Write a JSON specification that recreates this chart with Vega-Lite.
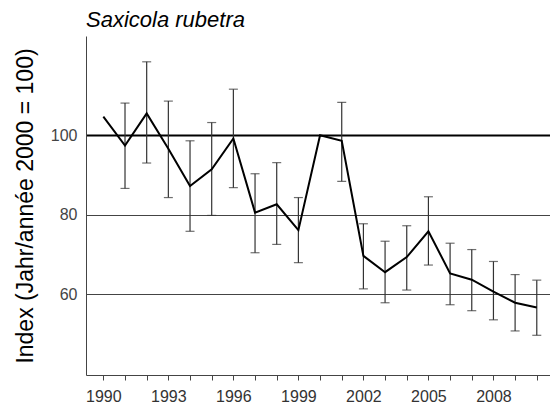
{
  "$schema": "https://vega.github.io/schema/vega-lite/v6.json",
  "autosize": {"type": "none"},
  "width": 464,
  "height": 339,
  "padding": {"left": 86, "top": 36, "right": 0, "bottom": 31},
  "background": "white",
  "config": {
    "font": "Liberation Sans",
    "view": {"stroke": null}
  },
  "title": {
    "text": "Saxicola rubetra",
    "anchor": "start",
    "frame": "group",
    "font": "Liberation Sans",
    "fontSize": 22,
    "fontStyle": "italic",
    "fontWeight": "normal",
    "color": "#000000",
    "baseline": "bottom",
    "offset": -18
  },
  "data": {
    "values": [
      {"year": 1990, "index": 104.7, "lo": null, "hi": null},
      {"year": 1991, "index": 97.4, "lo": 86.6, "hi": 108.1},
      {"year": 1992, "index": 105.5, "lo": 93.0, "hi": 118.5},
      {"year": 1993, "index": 96.6, "lo": 84.3, "hi": 108.6},
      {"year": 1994, "index": 87.2, "lo": 75.8, "hi": 98.6},
      {"year": 1995, "index": 91.4, "lo": 79.8, "hi": 103.2},
      {"year": 1996, "index": 99.2, "lo": 86.8, "hi": 111.6},
      {"year": 1997, "index": 80.5, "lo": 70.4, "hi": 90.3},
      {"year": 1998, "index": 82.6, "lo": 72.5, "hi": 93.1},
      {"year": 1999, "index": 76.1, "lo": 67.9, "hi": 84.3},
      {"year": 2000, "index": 100.0, "lo": null, "hi": null},
      {"year": 2001, "index": 98.6, "lo": 88.4, "hi": 108.3},
      {"year": 2002, "index": 69.6, "lo": 61.3, "hi": 77.7},
      {"year": 2003, "index": 65.5, "lo": 57.8, "hi": 73.3},
      {"year": 2004, "index": 69.3, "lo": 61.0, "hi": 77.2},
      {"year": 2005, "index": 75.8, "lo": 67.3, "hi": 84.5},
      {"year": 2006, "index": 65.2, "lo": 57.3, "hi": 72.8},
      {"year": 2007, "index": 63.6, "lo": 55.8, "hi": 71.2},
      {"year": 2008, "index": 60.6, "lo": 53.5, "hi": 68.2},
      {"year": 2009, "index": 57.8, "lo": 50.7, "hi": 64.9},
      {"year": 2010, "index": 56.6, "lo": 49.6, "hi": 63.5}
    ]
  },
  "encoding": {
    "x": {
      "field": "year",
      "type": "quantitative",
      "scale": {"domain": [1989.2, 2010.61], "nice": false, "zero": false},
      "axis": {
        "title": null,
        "values": [1990,1991,1992,1993,1994,1995,1996,1997,1998,1999,2000,2001,2002,2003,2004,2005,2006,2007,2008,2009,2010],
        "labelExpr": "(datum.value - 1990) % 3 == 0 ? format(datum.value, 'd') : ''",
        "grid": false,
        "domainColor": "#444444",
        "domainWidth": 1,
        "tickColor": "#444444",
        "tickSize": 5,
        "labelFont": "Liberation Sans",
        "labelFontSize": 16,
        "labelColor": "#333333",
        "labelPadding": 8,
        "labelFlush": false,
        "labelOverlap": false
      }
    }
  },
  "layer": [
    {
      "mark": {"type": "rule", "color": "#333333", "strokeWidth": 1.2},
      "transform": [{"filter": "isValid(datum.lo)"}],
      "encoding": {
        "y": {
          "field": "lo",
          "type": "quantitative",
          "scale": {"domain": [39.6, 125], "nice": false, "zero": false},
          "axis": {
            "title": "Index (Jahr/année 2000 = 100)",
            "values": [60, 80, 100],
            "grid": true,
            "gridColor": {"condition": {"test": "datum.value == 100", "value": "#000000"}, "value": "#444444"},
            "gridWidth": {"condition": {"test": "datum.value == 100", "value": 2}, "value": 1},
            "ticks": false,
            "domainColor": "#444444",
            "domainWidth": 1,
            "labelFont": "Liberation Sans",
            "labelFontSize": 16,
            "labelColor": "#444444",
            "labelPadding": 9,
            "titleFont": "Liberation Sans",
            "titleFontSize": 23,
            "titleFontWeight": "normal",
            "titleColor": "#000000",
            "titlePadding": 13
          }
        },
        "y2": {"field": "hi"}
      }
    },
    {
      "mark": {"type": "tick", "orient": "horizontal", "color": "#333333", "size": 9, "thickness": 1.2},
      "transform": [{"filter": "isValid(datum.lo)"}],
      "encoding": {"y": {"field": "lo", "type": "quantitative"}}
    },
    {
      "mark": {"type": "tick", "orient": "horizontal", "color": "#333333", "size": 9, "thickness": 1.2},
      "transform": [{"filter": "isValid(datum.hi)"}],
      "encoding": {"y": {"field": "hi", "type": "quantitative"}}
    },
    {
      "mark": {"type": "line", "color": "#000000", "strokeWidth": 2},
      "encoding": {"y": {"field": "index", "type": "quantitative"}}
    }
  ]
}
